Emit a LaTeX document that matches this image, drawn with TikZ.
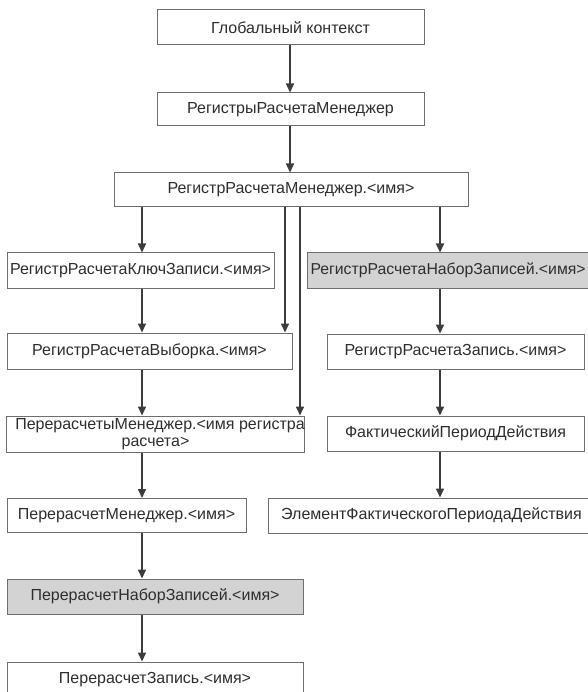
\documentclass[tikz,border=0pt]{standalone}
\usepackage{fontspec}
\setmainfont{Liberation Sans}
\usetikzlibrary{arrows.meta}
\definecolor{boxgray}{HTML}{6E6E6E}
\definecolor{arrgray}{HTML}{3C3C3C}
\definecolor{fillgray}{HTML}{D3D3D3}
\definecolor{txt}{HTML}{2E2E2E}
\begin{document}
\begin{tikzpicture}[x=1pt,y=-1pt,
  box/.style={draw=boxgray, line width=1pt, rectangle, inner sep=0pt, text=txt,
    font=\fontsize{16}{16.5}\selectfont},
  shaded/.style={box, fill=fillgray},
  arr/.style={draw=arrgray, line width=1.6pt, -{Triangle[length=9pt,width=8pt]}}]
\useasboundingbox (0,0) rectangle (587,692);
\fill[white] (0,0) rectangle (587,692);
\coordinate (colL) at (142,0);
\coordinate (colA) at (285,0);
\coordinate (colB) at (300,0);
\coordinate (colR) at (440,0);
\coordinate (colM) at (290,0);

\node[box, minimum width=267pt, minimum height=35pt] (g) at (290.5,27.5) {Глобальный контекст};
\node[box, minimum width=267pt, minimum height=33pt] (rm) at (290.5,109.5) {РегистрыРасчетаМенеджер};
\node[box, minimum width=354pt, minimum height=34pt] (rmn) at (291,190) {РегистрРасчетаМенеджер.<имя>};
\node[box, minimum width=267pt, minimum height=35pt] (kz) at (140.5,270.5) {РегистрРасчетаКлючЗаписи.<имя>};
\node[shaded, anchor=west, inner xsep=3pt, text width=284pt, align=left, minimum height=35pt,
  font=\fontsize{15.8}{16.5}\selectfont] (nz) at (307,270.5) {РегистрРасчетаНаборЗаписей.<имя>};
\node[box, minimum width=285pt, minimum height=36pt] (vy) at (149.5,351) {РегистрРасчетаВыборка.<имя>};
\node[box, minimum width=297pt, minimum height=36pt, align=center] (pm) at (155.5,434) {\hspace*{9pt}ПерерасчетыМенеджер.<имя регистра\\расчета>};
\node[box, minimum width=239pt, minimum height=34pt] (prm) at (126.5,515.5) {ПерерасчетМенеджер.<имя>};
\node[shaded, minimum width=296pt, minimum height=35pt] (pnz) at (155,596.5) {ПерерасчетНаборЗаписей.<имя>};
\node[box, minimum width=296pt, minimum height=35pt] (pz) at (155,679.5) {ПерерасчетЗапись.<имя>};
\node[box, minimum width=257pt, minimum height=35pt] (rz) at (455.5,351.5) {РегистрРасчетаЗапись.<имя>};
\node[box, minimum width=257pt, minimum height=35pt] (fp) at (455.5,433.5) {ФактическийПериодДействия};
\node[box, minimum width=327pt, minimum height=35pt] (ef) at (431.5,515.5) {ЭлементФактическогоПериодаДействия};

\draw[arr] (g.south -| colM) -- (rm.north -| colM);
\draw[arr] (rm.south -| colM) -- (rmn.north -| colM);
\draw[arr] (rmn.south -| colL) -- (kz.north -| colL);
\draw[arr] (kz.south -| colL) -- (vy.north -| colL);
\draw[arr] (vy.south -| colL) -- (pm.north -| colL);
\draw[arr] (pm.south -| colL) -- (prm.north -| colL);
\draw[arr] (prm.south -| colL) -- (pnz.north -| colL);
\draw[arr] (pnz.south -| colL) -- (pz.north -| colL);
\draw[arr] (rmn.south -| colA) -- (vy.north -| colA);
\draw[arr] (rmn.south -| colB) -- (pm.north -| colB);
\draw[arr] (rmn.south -| colR) -- (nz.north -| colR);
\draw[arr] (nz.south -| colR) -- (rz.north -| colR);
\draw[arr] (rz.south -| colR) -- (fp.north -| colR);
\draw[arr] (fp.south -| colR) -- (ef.north -| colR);
\end{tikzpicture}
\end{document}
